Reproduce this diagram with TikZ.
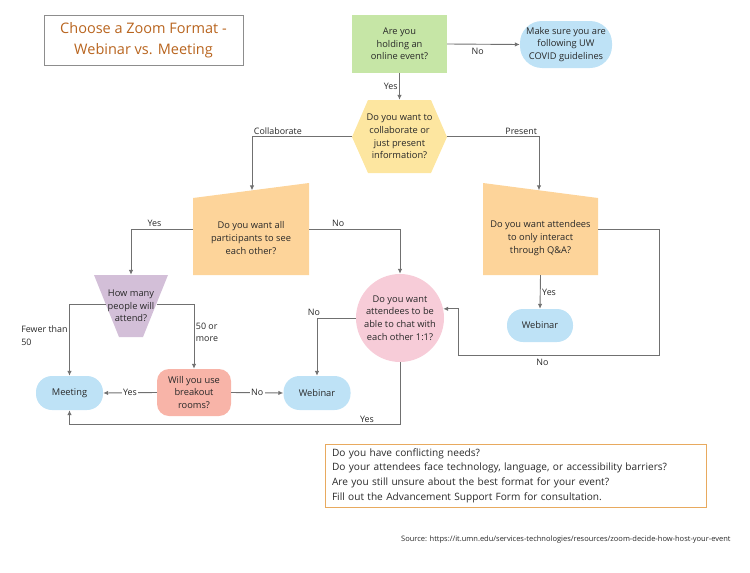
\documentclass[tikz,border=0pt]{standalone}
\usepackage{fontspec}
\setmainfont{Open Sans}
\usepackage{tikz}
\usetikzlibrary{shapes.geometric, arrows.meta}

\definecolor{zgreen}{RGB}{198,230,166}
\definecolor{zblue}{RGB}{190,226,246}
\definecolor{zyellow}{RGB}{253,230,160}
\definecolor{zorange}{RGB}{253,212,154}
\definecolor{zpurple}{RGB}{211,191,216}
\definecolor{zpink}{RGB}{247,204,216}
\definecolor{zsalmon}{RGB}{248,180,168}
\definecolor{zline}{RGB}{112,112,112}
\definecolor{ztext}{RGB}{40,40,40}
\definecolor{ztitle}{RGB}{184,100,30}
\definecolor{zborder}{RGB}{232,170,95}

\begin{document}
\begin{tikzpicture}[x=1pt, y=-1pt, font=\fontsize{9.3}{12.6}\selectfont, text=ztext,
    flow/.style={draw=zline, line width=0.9pt, -{Latex[length=5pt,width=4.5pt]}},
    lbl/.style={font=\fontsize{8.9}{12.4}\selectfont, inner sep=1.5pt},
    term/.style={fill=zblue, rounded corners=16pt, minimum width=67pt, minimum height=34pt, align=center},
    box/.style={inner sep=0pt, align=center}]
    \useasboundingbox (0,0) rectangle (750,573);

    % title
    \node[draw=zline!80, line width=0.8pt, minimum width=199pt, minimum height=50pt, text=ztitle,
        font=\fontsize{14.5}{20.5}\selectfont, align=center] (title) at (143.5,40) {Choose a Zoom Format -\\Webinar vs. Meeting};

    % top row
    \node[box, fill=zgreen, minimum width=95pt, minimum height=58pt] (online) at (399.5,44) {Are you\\holding an\\online event?};
    \node[term, minimum width=92pt, minimum height=47pt, rounded corners=22pt] (covid) at (566,44.5) {Make sure you are\\following UW\\COVID guidelines};

    % hexagon
    \fill[zyellow] (352,137) -- (368,100) -- (431,100) -- (447,137) -- (431,173) -- (368,173) -- cycle;
    \node[box, minimum width=95pt, minimum height=73pt] (collab) at (399.5,136.5) {Do you want to\\collaborate or\\just present\\information?};

    % manual inputs
    \fill[zorange] (193,198) -- (309,183) -- (309,275) -- (193,275) -- cycle;
    \node[box, minimum width=116pt, minimum height=92pt] (seeall) at (251,229) {};
    \node[box] (seeallText) at (251,238) {Do you want all\\participants to see\\each other?};
    \coordinate (seeallTop) at (252,190.4);

    \fill[zorange] (483,183) -- (598,198) -- (598,275) -- (483,275) -- cycle;
    \node[box, minimum width=115pt, minimum height=92pt] (qa) at (540.5,229) {};
    \node[box] (qaText) at (540.5,238) {Do you want attendees\\to only interact\\through Q\&A?};
    \coordinate (qaTop) at (539,190.3);

    % trapezoid
    \fill[zpurple] (94,275) -- (168,275) -- (143,337) -- (119,337) -- cycle;
    \node[box, minimum width=74pt, minimum height=62pt] (howmany) at (131,306) {How many\\people will\\attend?};
    \coordinate (howL) at (105.5,304);
    \coordinate (howR) at (156.5,304);

    % circle
    \node[box, circle, fill=zpink, minimum size=88pt] (chat) at (400,318) {Do you want\\attendees to be\\able to chat with\\each other 1:1?};

    % end points
    \node[term] (meeting) at (69.5,393) {Meeting};
    \node[box, fill=zsalmon, rounded corners=12pt, minimum width=74pt, minimum height=47pt] (breakout) at (194,392.5) {Will you use\\breakout\\rooms?};
    \node[term] (webinarA) at (317,393) {Webinar};
    \node[term, minimum width=66pt, minimum height=33pt] (webinarB) at (540,325.5) {Webinar};

    % connectors
    \draw[flow] (online.south) -- node[lbl, left] {Yes} (collab.north);
    \draw[flow] (online.east) -- node[lbl, below=2pt, pos=0.42] {No} (covid.west);
    \draw[flow] (collab.west) -| node[lbl, above right, pos=0.5] {Collaborate} (seeallTop);
    \draw[flow] (collab.east) -| node[lbl, above left, pos=0.5] {Present} (qaTop);
    \draw[flow] (seeall.west) -| node[lbl, above, pos=0.31] {Yes} (howmany.north);
    \draw[flow] (seeall.east) -| node[lbl, above, pos=0.16] {No} (chat.north);
    \draw[flow] (howL) -| node[lbl, left, align=left, pos=0.72] {Fewer than\\50} (meeting.north);
    \draw[flow] (howR) -| node[lbl, right, align=left, pos=0.72] {50 or\\more} (breakout.north);
    \draw[flow] (breakout.west) -- node[lbl, fill=white] {Yes} (meeting.east);
    \draw[flow] (breakout.east) -- node[lbl, fill=white] {No} (webinarA.west);
    \draw[flow] (chat.west) -| node[lbl, above, xshift=-3pt, pos=0.5] {No} (webinarA.north);
    \draw[flow] (chat.south) -- ++(0,62) -| node[lbl, above, pos=0.05] {Yes} (meeting.south);
    \draw[flow] (qa.south) -- node[lbl, right] {Yes} (webinarB.north);
    \coordinate (noBend) at (458,355);
    \draw[flow] (qa.east) -| ++(61,126) -- node[lbl, below=2pt, pos=0.58] {No} (noBend) |- (chat.12);

    % notes
    \node[draw=zborder, line width=0.9pt, minimum width=381pt, minimum height=63pt, inner xsep=7pt,
        text width=367pt, align=left, font=\fontsize{10.1}{14.7}\selectfont] (help) at (515.5,475.5)
        {Do you have conflicting needs?\\Do your attendees face technology, language, or accessibility barriers?\\Are you still unsure about the best format for your event?\\Fill out the Advancement Support Form for consultation.};
    \node[anchor=west, inner sep=0pt, font=\fontsize{7.5}{9}\selectfont] (source) at (401,540)
        {Source: https://it.umn.edu/services-technologies/resources/zoom-decide-how-host-your-event};
\end{tikzpicture}
\end{document}
